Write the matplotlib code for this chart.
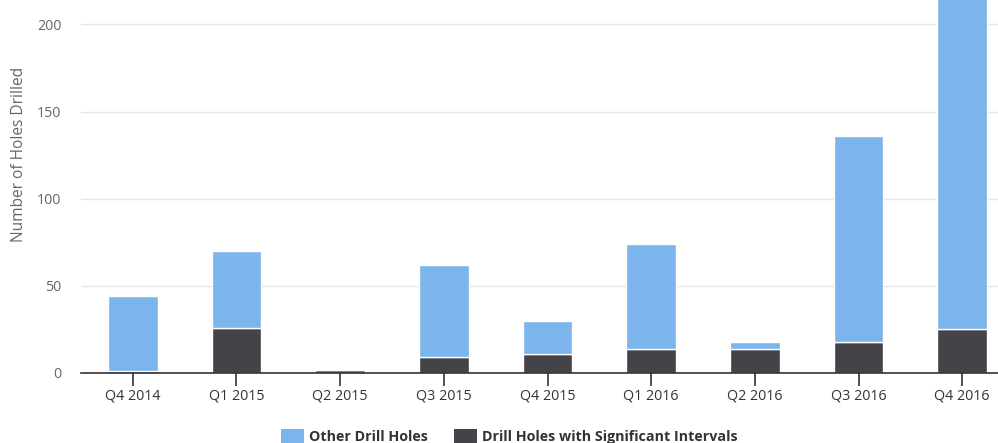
import numpy as np
import matplotlib.pyplot as plt
from matplotlib.patches import Patch

plt.rcParams['font.family'] = ['Open Sans', 'DejaVu Sans']

quarters = ['Q4 2014', 'Q1 2015', 'Q2 2015', 'Q3 2015', 'Q4 2015',
            'Q1 2016', 'Q2 2016', 'Q3 2016', 'Q4 2016']
significant = [1, 26, 2, 9, 11, 14, 14, 18, 25]
other = [43, 44, 0, 53, 19, 60, 4, 118, 205]

light_blue = '#7cb5ec'
dark_grey = '#434348'

fig = plt.figure(figsize=(9.98, 4.43), dpi=100)
ax = fig.add_axes([81 / 998, 70 / 443, 933 / 998, 373 / 443])

x = np.arange(len(quarters))
ax.bar(x, significant, width=0.48, color=dark_grey, edgecolor='white', linewidth=1, zorder=3)
ax.bar(x, other, width=0.48, bottom=significant, color=light_blue, edgecolor='white', linewidth=1, zorder=3)

ax.set_xlim(-0.5, len(quarters) - 0.5)
ax.set_ylim(0, 214)
ax.set_yticks([0, 50, 100, 150, 200])
ax.grid(axis='y', color='#e6e6e6', linewidth=1, zorder=0)
ax.set_axisbelow(True)

for s in ['left', 'right', 'top']:
    ax.spines[s].set_visible(False)
ax.spines['bottom'].set_color('#333333')
ax.spines['bottom'].set_linewidth(1.2)
ax.spines['bottom'].set_zorder(4)

ax.set_xticks(x)
ax.set_xticklabels(quarters)
ax.tick_params(axis='x', length=9, width=1.2, color='#333333', labelsize=10.3, labelcolor='#333333', pad=2)
ax.tick_params(axis='y', length=0, labelsize=10.3, labelcolor='#666666', pad=14)

ax.set_ylabel('Number of Holes Drilled', color='#666666', fontsize=11.2)
ax.yaxis.set_label_coords(-0.058, 0.585)

handles = [Patch(facecolor=light_blue, edgecolor='none'),
           Patch(facecolor=dark_grey, edgecolor='none')]
fig.legend(handles, ['Other Drill Holes', 'Drill Holes with Significant Intervals'],
           loc='center', bbox_to_anchor=(0.5105, 0.015), ncol=2, frameon=False,
           prop={'weight': 'bold', 'size': 10.3}, handlelength=1.6, handleheight=1.2,
           columnspacing=1.8, handletextpad=0.35, labelcolor='#333333')

fig.savefig('out.png', dpi=100)
